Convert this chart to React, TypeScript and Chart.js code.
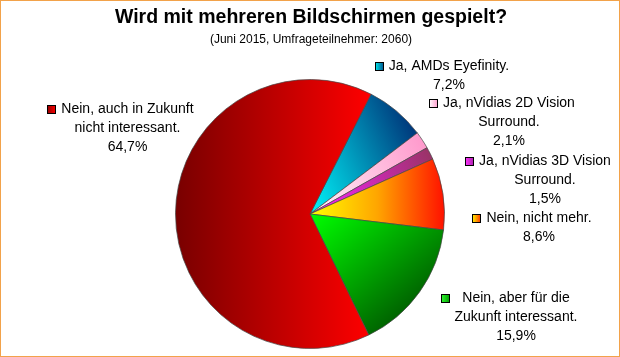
import React, { useEffect, useRef } from "react";
import { Chart, registerables } from "chart.js";

Chart.register(...registerables);

const title = "Wird mit mehreren Bildschirmen gespielt?";
const subtitle = "(Juni 2015, Umfrageteilnehmer: 2060)";

const categories = [
  "Ja, AMDs Eyefinity.",
  "Ja, nVidias 2D Vision\nSurround.",
  "Ja, nVidias 3D Vision\nSurround.",
  "Nein, nicht mehr.",
  "Nein, aber für die\nZukunft interessant.",
  "Nein, auch in Zukunft\nnicht interessant.",
];

const values = [7.2, 2.1, 1.5, 8.6, 15.9, 64.7];

// style: gradient colours [inner, outer] and gradient direction (deg, canvas coords)
const gradColors = [
  ["#00F6FA", "#00367A"],
  ["#FFF4FA", "#FF99CC"],
  ["#FF22FF", "#993366"],
  ["#FFFF00", "#FF1000"],
  ["#00FF00", "#006400"],
  ["#FF0000", "#780000"],
];
const gradDir = [-25, -25, -25, 0, 50, 180];
const squareColors = [
  ["#00F0F0", "#004A8A"],
  ["#FFFFFF", "#FF99CC"],
  ["#FF33FF", "#AA22AA"],
  ["#FFFF00", "#FF3000"],
  ["#33FF33", "#009900"],
  ["#900000", "#FF0000"],
];

// layout: label anchor (center x, first line middle y)
const labelPos = [
  { cx: 449, y: 66 },
  { cx: 509, y: 103 },
  { cx: 545, y: 161 },
  { cx: 539, y: 218 },
  { cx: 516, y: 298 },
  { cx: 127.5, y: 109 },
];
const ROTATION = 27;
const FONT = "Arial, 'Liberation Sans', sans-serif";

function sliceGradient(chart: any, i: number) {
  const area = chart.chartArea;
  if (!area) return gradColors[i][0];
  const cx = (area.left + area.right) / 2;
  const cy = (area.top + area.bottom) / 2;
  const r = Math.min(area.right - area.left, area.bottom - area.top) / 2;
  const total = values.reduce((a, b) => a + b, 0);
  let a0 = -Math.PI / 2 + (ROTATION * Math.PI) / 180;
  for (let k = 0; k < i; k++) a0 += (values[k] / total) * Math.PI * 2;
  const a1 = a0 + (values[i] / total) * Math.PI * 2;
  const d = (gradDir[i] * Math.PI) / 180;
  const ux = Math.cos(d), uy = Math.sin(d);
  let mn = 0, mx = 0;
  for (let s = 0; s <= 40; s++) {
    const a = a0 + ((a1 - a0) * s) / 40;
    const p = r * (Math.cos(a) * ux + Math.sin(a) * uy);
    mn = Math.min(mn, p);
    mx = Math.max(mx, p);
  }
  const g = chart.ctx.createLinearGradient(cx + ux * mn, cy + uy * mn, cx + ux * mx, cy + uy * mx);
  g.addColorStop(0, gradColors[i][0]);
  if (i === 3) g.addColorStop(0.5, "#FFA500");
  g.addColorStop(1, gradColors[i][1]);
  return g;
}

const textPlugin = {
  id: "texts",
  afterDraw(chart: any) {
    const ctx = chart.ctx as CanvasRenderingContext2D;
    ctx.save();
    ctx.fillStyle = "#000";
    ctx.textAlign = "center";
    ctx.textBaseline = "middle";
    ctx.font = `bold 19.5px ${FONT}`;
    ctx.fillText(title, 311, 18);
    ctx.font = `12px ${FONT}`;
    ctx.fillText(subtitle, 311, 40);

    ctx.font = `14px ${FONT}`;
    const lh = 19;
    values.forEach((v, i) => {
      const lines = categories[i].split("\n");
      lines.push(v.toFixed(1).replace(".", ",") + "%");
      const pos = labelPos[i];
      let maxW = 0;
      lines.forEach((l) => (maxW = Math.max(maxW, ctx.measureText(l).width)));
      lines.forEach((l, j) => {
        ctx.fillStyle = "#000";
        ctx.fillText(l, pos.cx, pos.y + j * lh);
      });
      const sx = Math.round(pos.cx - maxW / 2 - 14);
      const sy = Math.round(pos.y - 4.5);
      const g = ctx.createLinearGradient(sx, 0, sx + 9, 0);
      g.addColorStop(0, squareColors[i][0]);
      g.addColorStop(1, squareColors[i][1]);
      ctx.fillStyle = g;
      ctx.fillRect(sx, sy, 9, 9);
      ctx.strokeStyle = "#000";
      ctx.lineWidth = 1;
      ctx.strokeRect(sx + 0.5, sy + 0.5, 8, 8);
    });

    ctx.strokeStyle = "#F2A24A";
    ctx.lineWidth = 1;
    ctx.strokeRect(0.5, 0.5, chart.width - 1, chart.height - 1);
    ctx.restore();
  },
};

export default function App() {
  const ref = useRef<HTMLCanvasElement>(null);
  useEffect(() => {
    document.body.style.margin = "0";
    const c = new Chart(ref.current!, {
      type: "pie",
      data: {
        labels: categories,
        datasets: [
          {
            data: values,
            backgroundColor: (ctx: any) => sliceGradient(ctx.chart, ctx.dataIndex),
            borderColor: "rgba(70,70,70,0.7)",
            borderWidth: 1,
          },
        ],
      },
      options: {
        responsive: false,
        animation: false,
        rotation: ROTATION,
        layout: { padding: { top: 79, bottom: 8, left: 175, right: 175 } },
        plugins: {
          legend: { display: false },
          tooltip: { enabled: false },
          title: { display: false },
        },
      },
      plugins: [textPlugin],
    });
    return () => c.destroy();
  }, []);
  return (
    <div style={{ width: 620, height: 357, background: "#fff" }}>
      <canvas ref={ref} width={620} height={357} style={{ display: "block" }} />
    </div>
  );
}
